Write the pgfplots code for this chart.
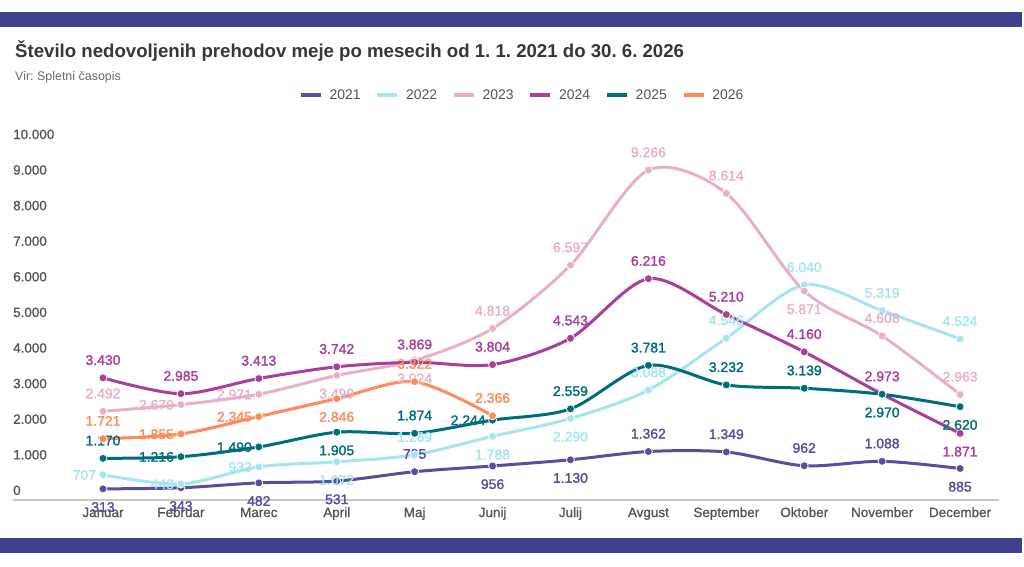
\documentclass[border=0pt]{standalone}
\usepackage{pgfplots}
\pgfplotsset{compat=1.18}
\usepackage{pgfplotstable}
\usepackage{fontspec}
\setmainfont{Liberation Sans}
\newfontfamily\medfont{Liberation Sans}[FakeBold=1]
\newfontfamily\lblfam{Liberation Sans}[FakeBold=1.6]
\frenchspacing

\definecolor{c2021}{RGB}{88,78,158}
\definecolor{c2022}{RGB}{166,229,240}
\definecolor{c2023}{RGB}{232,176,200}
\definecolor{c2024}{RGB}{170,62,155}
\definecolor{c2025}{RGB}{0,110,122}
\definecolor{c2026}{RGB}{255,138,92}
\definecolor{barcol}{RGB}{64,62,142}
\definecolor{axiscol}{RGB}{200,200,200}
\definecolor{tickcol}{RGB}{85,85,85}
\definecolor{titlecol}{RGB}{55,55,55}
\definecolor{subcol}{RGB}{105,105,105}

% label placement: A = above, B = below, L = left of the point
\protected\def\A#1{\makebox[0pt][c]{\smash{\raisebox{13bp}{#1}}}}
\protected\def\B#1{\makebox[0pt][c]{\smash{\raisebox{-23bp}{#1}}}}
\protected\def\L#1{\makebox[0pt][r]{\smash{\raisebox{-5bp}{#1}}\hspace{7bp}}}

\pgfplotstableread{
x y l
0 313 \B{313}
1 343 \B{343}
2 482 \B{482}
3 531 \B{531}
4 795 \A{795}
5 956 \B{956}
6 1130 \B{1.130}
7 1362 \A{1.362}
8 1349 \A{1.349}
9 962 \A{962}
10 1088 \A{1.088}
11 885 \B{885}
}\tA
\pgfplotstableread{
x y l
0 707 \L{707}
1 448 \L{448}
2 933 \L{933}
3 1072 \B{1.072}
4 1269 \A{1.269}
5 1788 \B{1.788}
6 2290 \B{2.290}
7 3088 \A{3.088}
8 4546 \A{4.546}
9 6040 \A{6.040}
10 5319 \A{5.319}
11 4524 \A{4.524}
}\tB
\pgfplotstableread{
x y l
0 2492 \A{2.492}
1 2679 \L{2.679}
2 2971 \L{2.971}
3 3499 \B{3.499}
4 3924 \B{3.924}
5 4818 \A{4.818}
6 6597 \A{6.597}
7 9266 \A{9.266}
8 8614 \A{8.614}
9 5871 \B{5.871}
10 4608 \A{4.608}
11 2963 \A{2.963}
}\tC
\pgfplotstableread{
x y l
0 3430 \A{3.430}
1 2985 \A{2.985}
2 3413 \A{3.413}
3 3742 \A{3.742}
4 3869 \A{3.869}
5 3804 \A{3.804}
6 4543 \A{4.543}
7 6216 \A{6.216}
8 5210 \A{5.210}
9 4160 \A{4.160}
10 2973 \A{2.973}
11 1871 \B{1.871}
}\tD
\pgfplotstableread{
x y l
0 1170 \A{1.170}
1 1216 \L{1.216}
2 1490 \L{1.490}
3 1905 \B{1.905}
4 1874 \A{1.874}
5 2244 \L{2.244}
6 2559 \A{2.559}
7 3781 \A{3.781}
8 3232 \A{3.232}
9 3139 \A{3.139}
10 2970 \B{2.970}
11 2620 \B{2.620}
}\tE
\pgfplotstableread{
x y l
0 1721 \A{1.721}
1 1855 \L{1.855}
2 2345 \L{2.345}
3 2846 \B{2.846}
4 3322 \A{3.322}
5 2366 \A{2.366}
}\tF

\pgfplotsset{
  ser/.style={color=#1, line width=3bp, smooth, mark=*, mark size=4bp,
    mark options={fill=#1, draw=white, line width=0.7bp},
    nodes near coords, point meta=explicit symbolic,
    nodes near coords style={anchor=center, inner sep=0pt, outer sep=0pt,
      font=\lblfam\fontsize{14}{14}\selectfont, text=#1}},
}

\begin{document}
\begin{tikzpicture}
\useasboundingbox[fill=white] (0,0) rectangle (1024bp,-567bp);
\fill[barcol] (0,-12bp) rectangle (1022bp,-27bp);
\fill[barcol] (0,-538bp) rectangle (1022bp,-553bp);
\node[anchor=base west, inner sep=0pt, text=titlecol, font=\fontsize{18.7}{18.7}\selectfont\bfseries] at (15bp,-57bp) {Število nedovoljenih prehodov meje po mesecih od 1. 1. 2021 do 30. 6. 2026};
\node[anchor=base west, inner sep=0pt, text=subcol, font=\fontsize{12.5}{12.5}\selectfont] at (15bp,-80bp) {Vir: Spletni časopis};
\begin{axis}[
  at={(13bp,-500bp)}, anchor=south west,
  scale only axis, width=986bp, height=356bp,
  xmin=-1.155, xmax=11.5, ymin=0, ymax=10000,
  clip=false, scaled y ticks=false,
  axis x line*=bottom, axis y line*=left,
  y axis line style={draw=none},
  x axis line style={draw=axiscol, line width=1.5bp, -},
  major tick length=0pt, tick style={draw=none},
  ytick={0,1000,...,10000},
  yticklabels={0,1.000,2.000,3.000,4.000,5.000,6.000,7.000,8.000,9.000,10.000},
  yticklabel style={anchor=base west, inner sep=0pt, yshift=5bp, text=tickcol, font=\medfont\fontsize{13.5}{13.5}\selectfont},
  xtick={0,...,11},
  xticklabels={Januar,Februar,Marec,April,Maj,Junij,Julij,Avgust,September,Oktober,November,December},
  xticklabel style={anchor=base, inner sep=0pt, yshift=-17bp, text=tickcol, font=\medfont\fontsize{13.5}{13.5}\selectfont},
  legend image code/.code={\draw[#1] (0bp,0bp) -- (20bp,0bp);},
  legend style={draw=none, fill=none, at={(axis description cs:0.29,1.1376)}, anchor=west,
    legend columns=6, font=\fontsize{14}{14}\selectfont, text=tickcol, inner sep=0pt,
    nodes={inner sep=0pt}, cells={anchor=west},
    column sep=7bp, /tikz/every even column/.append style={column sep=15bp}},
]
\addlegendimage{draw=c2021, line width=3.5bp}\addlegendentry{2021}
\addlegendimage{draw=c2022, line width=3.5bp}\addlegendentry{2022}
\addlegendimage{draw=c2023, line width=3.5bp}\addlegendentry{2023}
\addlegendimage{draw=c2024, line width=3.5bp}\addlegendentry{2024}
\addlegendimage{draw=c2025, line width=3.5bp}\addlegendentry{2025}
\addlegendimage{draw=c2026, line width=3.5bp}\addlegendentry{2026}
\addplot[ser=c2021, forget plot] table[x=x, y=y, meta=l] {\tA};
\addplot[ser=c2022, forget plot] table[x=x, y=y, meta=l] {\tB};
\addplot[ser=c2023, forget plot] table[x=x, y=y, meta=l] {\tC};
\addplot[ser=c2024, forget plot] table[x=x, y=y, meta=l] {\tD};
\addplot[ser=c2025, forget plot] table[x=x, y=y, meta=l] {\tE};
\addplot[ser=c2026, forget plot] table[x=x, y=y, meta=l] {\tF};
\end{axis}
\end{tikzpicture}
\end{document}
